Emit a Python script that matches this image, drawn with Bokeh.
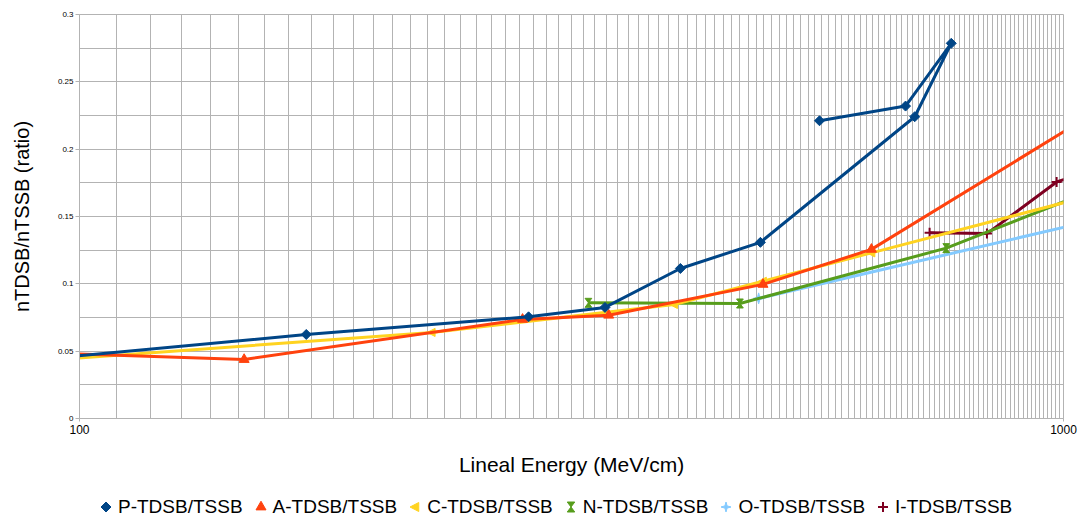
from bokeh.plotting import figure
from bokeh.layouts import column
from bokeh.models import (FixedTicker, Legend, LegendItem, CustomJS, Range1d)
from bokeh.embed import file_html
from bokeh.resources import INLINE

# ---- data: lineal energy (MeV/cm) vs nTDSB/nTSSB ratio ----
p_energy = [90, 170, 286, 342, 408, 492, 706, 769, 691, 565]
p_ratio = [0.0434, 0.0624, 0.0755, 0.0825, 0.1114, 0.1308, 0.2241, 0.2786, 0.2320, 0.2211]

a_energy = [90, 147, 282, 345, 495, 638, 1100]
a_ratio = [0.0489, 0.0438, 0.0736, 0.0767, 0.0996, 0.1256, 0.2314]

c_energy = [90, 228, 402, 495, 638, 1100]
c_ratio = [0.0426, 0.0639, 0.0847, 0.1019, 0.1230, 0.1681]

n_energy = [329, 469, 760, 1100]
n_ratio = [0.0859, 0.0854, 0.1265, 0.1728]

o_energy = [490, 1100]
o_ratio = [0.0892, 0.1490]

i_energy = [731, 836, 984, 1100]
i_ratio = [0.1379, 0.1373, 0.1756, 0.1876]

series_names = ["P-TDSB/TSSB", "A-TDSB/TSSB", "C-TDSB/TSSB",
                "N-TDSB/TSSB", "O-TDSB/TSSB", "I-TDSB/TSSB"]

x_ticks = [100, 1000]
x_tick_labels = ["100", "1000"]
y_ticks = [0, 0.05, 0.1, 0.15, 0.2, 0.25, 0.3]
y_tick_labels = ["0", "0.05", "0.1", "0.15", "0.2", "0.25", "0.3"]
y_minor = [0.025, 0.075, 0.125, 0.175, 0.225, 0.275]
x_minor = list(range(109, 1000, 9))

FONT = "Liberation Sans"
GRID = "#b3b3b3"
W, H_MAIN, H_LEG = 1084, 493, 26

# custom marker shapes
def marker_js(body):
    return CustomJS(code="""
export default (args, obj, {ctx, i, r, visuals}) => {
  ctx.beginPath()
  %s
  ctx.closePath()
  visuals.fill.apply(ctx, i)
  visuals.line.apply(ctx, i)
}
""" % body)

marker_defs = {
    "@rhomb": marker_js("""
  ctx.moveTo(0, -r)
  ctx.lineTo(r, 0)
  ctx.lineTo(0, r)
  ctx.lineTo(-r, 0)"""),
    "@hourglass": marker_js("""
  ctx.moveTo(-0.75*r, -r)
  ctx.lineTo(0.75*r, -r)
  ctx.lineTo(-0.75*r, r)
  ctx.lineTo(0.75*r, r)"""),
    "@lefttri": marker_js("""
  ctx.moveTo(-r, 0)
  ctx.lineTo(0.75*r, -0.9*r)
  ctx.lineTo(0.75*r, 0.9*r)"""),
    "@sparkle": marker_js("""
  ctx.moveTo(0, -r)
  ctx.lineTo(0.22*r, -0.22*r)
  ctx.lineTo(r, 0)
  ctx.lineTo(0.22*r, 0.22*r)
  ctx.lineTo(0, r)
  ctx.lineTo(-0.22*r, 0.22*r)
  ctx.lineTo(-r, 0)
  ctx.lineTo(-0.22*r, -0.22*r)"""),
}

specs = [
    (p_energy, p_ratio, "#004586", "@rhomb", 10),
    (a_energy, a_ratio, "#ff420e", "triangle", 10),
    (c_energy, c_ratio, "#ffd320", "@lefttri", 9),
    (n_energy, n_ratio, "#579d1c", "@hourglass", 9),
    (o_energy, o_ratio, "#83caff", "@sparkle", 11),
    (i_energy, i_ratio, "#7e0021", "cross", 10),
]


def marker_kwargs(color, marker, size):
    kw = dict(marker=marker, size=size, fill_color=color, line_color=color)
    if marker.startswith("@"):
        kw["defs"] = {marker: marker_defs[marker]}
    if marker == "cross":
        kw["line_width"] = 2
    return kw


p = figure(width=W, height=H_MAIN, x_axis_type="log",
           x_range=Range1d(100, 1000), y_range=Range1d(0, 0.3),
           output_backend="svg", toolbar_location=None,
           min_border_left=79, min_border_right=21,
           min_border_top=14, min_border_bottom=75)
p.background_fill_color = "white"
p.border_fill_color = "white"
p.outline_line_color = GRID

# axes
xa = p.xaxis[0]
xa.ticker = FixedTicker(ticks=x_ticks, minor_ticks=x_minor)
xa.major_label_overrides = dict(zip(x_ticks, x_tick_labels))
xa.axis_label = "Lineal Energy (MeV/cm)"
ya = p.yaxis[0]
ya.ticker = FixedTicker(ticks=y_ticks, minor_ticks=y_minor)
ya.major_label_overrides = dict(zip(y_ticks, y_tick_labels))
ya.axis_label = "nTDSB/nTSSB (ratio)"

for ax in (xa, ya):
    ax.axis_line_color = GRID
    ax.major_tick_line_color = GRID
    ax.minor_tick_out = 0
    ax.minor_tick_in = 0
    ax.major_tick_in = 0
    ax.major_label_text_font = FONT
    ax.axis_label_text_font = FONT
    ax.axis_label_text_font_style = "normal"
    ax.axis_label_text_color = "black"
    ax.major_label_text_color = "black"

xa.major_tick_out = 3
xa.major_label_standoff = 3
xa.major_label_text_font_size = "12px"
xa.axis_label_text_font_size = "21px"
xa.axis_label_standoff = 16
ya.major_tick_out = 4
ya.major_label_standoff = 2
ya.major_label_text_font_size = "8px"
ya.axis_label_text_font_size = "20px"
ya.axis_label_standoff = 22

for g in (p.xgrid[0], p.ygrid[0]):
    g.grid_line_color = GRID
    g.minor_grid_line_color = GRID
    g.grid_line_width = 1
    g.minor_grid_line_width = 1

# series, drawn so that the first one ends up on top
for idx in reversed(range(len(specs))):
    xs, ys, color, marker, size = specs[idx]
    p.line(xs, ys, line_color=color, line_width=3, line_join="round")
    p.scatter(xs, ys, **marker_kwargs(color, marker, size))

# legend strip: its own small figure; the series points fall outside its
# ranges, so only the legend symbols and labels show
leg_fig = figure(width=W, height=H_LEG, x_range=Range1d(0, 1),
                 y_range=Range1d(0, 1), output_backend="svg",
                 toolbar_location=None, x_axis_location=None,
                 y_axis_location=None, min_border=0)
leg_fig.outline_line_color = None
leg_fig.xgrid.visible = False
leg_fig.ygrid.visible = False
leg_fig.border_fill_color = "white"
leg_fig.background_fill_color = "white"

items = []
for name, (xs, ys, color, marker, size) in zip(series_names, specs):
    r = leg_fig.scatter(xs, ys, **marker_kwargs(color, marker, size))
    items.append(LegendItem(label=name, renderers=[r]))

legend = Legend(items=items, orientation="horizontal", location=(14, 0),
                label_text_font=FONT, label_text_font_size="19px",
                label_text_color="black", glyph_width=25, glyph_height=25,
                label_standoff=0, spacing=5, padding=0, margin=0,
                border_line_color=None, background_fill_alpha=0)
leg_fig.add_layout(legend, "center")

layout = column(p, leg_fig, spacing=0)
open("out.html", "w").write(file_html(layout, INLINE))
